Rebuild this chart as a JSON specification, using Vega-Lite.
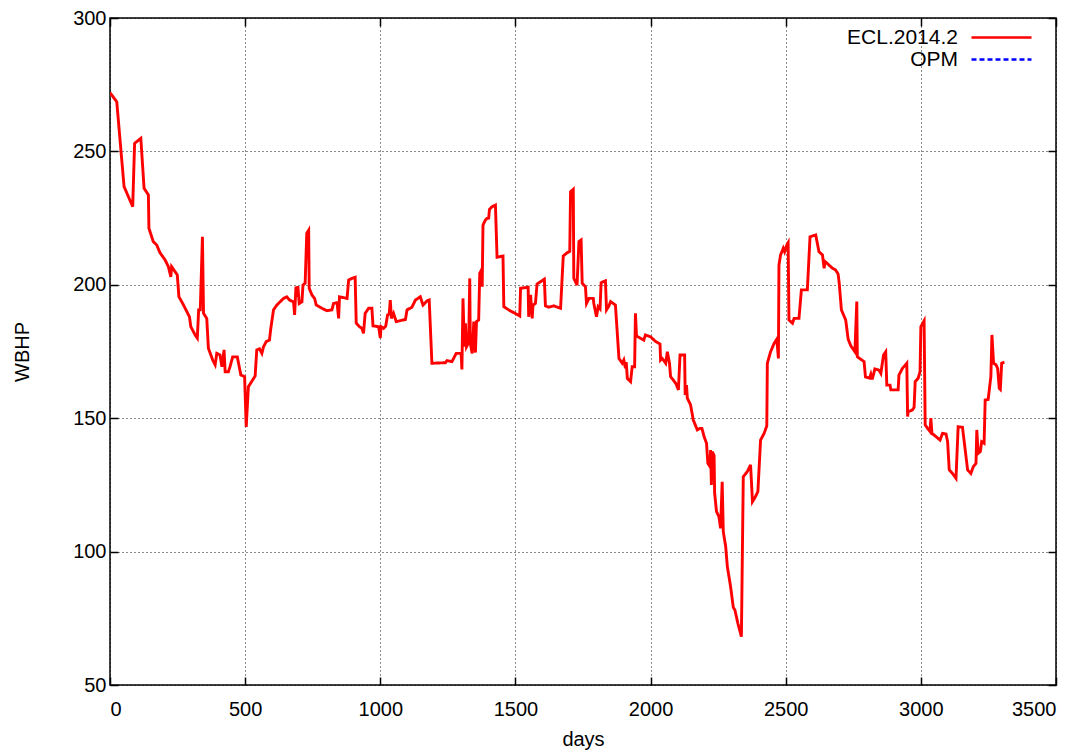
{
  "$schema": "https://vega.github.io/schema/vega-lite/v6.json",
  "width": 946,
  "height": 667,
  "autosize": {"type": "none"},
  "padding": {"left": 110, "top": 18, "right": 30, "bottom": 69},
  "background": "white",
  "config": {
    "font": "Liberation Sans",
    "view": {"stroke": "black", "strokeWidth": 1.5},
    "axis": {
      "labelFontSize": 20, "labelColor": "black", "labelFont": "Liberation Sans",
      "titleFontSize": 20, "titleFontWeight": "normal", "titleColor": "black", "titleFont": "Liberation Sans",
      "gridColor": "black", "gridDash": [1, 3], "gridOpacity": 0.9, "gridWidth": 1,
      "domain": false, "tickColor": "black", "tickWidth": 1.5, "tickSize": -8, "format": "d"
    },
    "legend": {"labelFontSize": 21, "labelColor": "black", "labelFont": "Liberation Sans"}
  },
  "data": {"values": [
    {"day":0,"v":272},{"day":25,"v":268.6},{"day":52,"v":236.8},{"day":84,"v":229.3},{"day":91,"v":253},{"day":114,"v":254.9},{"day":126,"v":236.2},{"day":142,"v":233.7},{"day":144,"v":221.2},{"day":160,"v":216.2},{"day":173,"v":214.9},{"day":185,"v":212},{"day":204,"v":209.3},{"day":216,"v":206.8},{"day":225,"v":203},{"day":228,"v":206.8},{"day":249,"v":203.7},{"day":255,"v":195.5},{"day":269,"v":193},{"day":294,"v":188},{"day":299,"v":184.3},{"day":315,"v":181.2},{"day":323,"v":180},{"day":328,"v":190.6},{"day":334,"v":190.6},{"day":342,"v":218},{"day":346,"v":189.3},{"day":358,"v":187.4},{"day":364,"v":176.2},{"day":380,"v":171.8},{"day":389,"v":170},{"day":395,"v":174.3},{"day":407,"v":173.7},{"day":414,"v":169.3},{"day":422,"v":175.6},{"day":426,"v":167.4},{"day":438,"v":167.4},{"day":444,"v":169.3},{"day":454,"v":173},{"day":471,"v":173},{"day":484,"v":166.2},{"day":498,"v":165.6},{"day":504,"v":146.7},{"day":512,"v":161.8},{"day":537,"v":165.8},{"day":543,"v":175.6},{"day":553,"v":176},{"day":562,"v":174.3},{"day":568,"v":176.8},{"day":578,"v":178.7},{"day":590,"v":179.3},{"day":595,"v":183.7},{"day":605,"v":190.6},{"day":617,"v":192.4},{"day":642,"v":194.9},{"day":654,"v":195.5},{"day":664,"v":194.3},{"day":679,"v":193.6},{"day":683,"v":188.7},{"day":688,"v":199.3},{"day":691,"v":195.5},{"day":695,"v":199.5},{"day":700,"v":193},{"day":710,"v":193.6},{"day":714,"v":199.9},{"day":722,"v":200.6},{"day":728,"v":219.3},{"day":735,"v":220.5},{"day":737,"v":198.7},{"day":747,"v":196.2},{"day":757,"v":194.9},{"day":763,"v":192.4},{"day":784,"v":191.2},{"day":802,"v":190.3},{"day":821,"v":190.6},{"day":827,"v":193},{"day":840,"v":193.3},{"day":846,"v":187.4},{"day":849,"v":195.5},{"day":877,"v":194.9},{"day":883,"v":201.8},{"day":895,"v":202.4},{"day":907,"v":202.8},{"day":911,"v":185.6},{"day":923,"v":184.3},{"day":932,"v":183.7},{"day":938,"v":181.8},{"day":944,"v":189.3},{"day":957,"v":191.2},{"day":969,"v":191.2},{"day":973,"v":184.6},{"day":994,"v":184.3},{"day":1000,"v":180},{"day":1003,"v":184.3},{"day":1012,"v":183.7},{"day":1020,"v":184.5},{"day":1027,"v":188.7},{"day":1033,"v":189},{"day":1037,"v":194.3},{"day":1041,"v":187.4},{"day":1049,"v":189.3},{"day":1059,"v":186.2},{"day":1093,"v":187},{"day":1099,"v":190.6},{"day":1117,"v":191.6},{"day":1130,"v":194.3},{"day":1148,"v":195.5},{"day":1158,"v":192.4},{"day":1173,"v":194},{"day":1181,"v":194.3},{"day":1191,"v":170.6},{"day":1241,"v":170.8},{"day":1247,"v":171.6},{"day":1265,"v":171.2},{"day":1281,"v":174.3},{"day":1299,"v":174.3},{"day":1302,"v":168.3},{"day":1306,"v":194.9},{"day":1311,"v":176.8},{"day":1315,"v":185.6},{"day":1319,"v":176.8},{"day":1327,"v":178.4},{"day":1331,"v":202.4},{"day":1333,"v":178},{"day":1340,"v":174.3},{"day":1346,"v":186.2},{"day":1352,"v":174.6},{"day":1356,"v":186.2},{"day":1364,"v":186.8},{"day":1368,"v":204.3},{"day":1374,"v":205.5},{"day":1377,"v":199.3},{"day":1380,"v":222.4},{"day":1389,"v":224.3},{"day":1395,"v":224.9},{"day":1401,"v":225},{"day":1404,"v":228.3},{"day":1414,"v":229.3},{"day":1426,"v":229.9},{"day":1432,"v":210.3},{"day":1454,"v":210.8},{"day":1457,"v":191.8},{"day":1475,"v":190.6},{"day":1516,"v":188.3},{"day":1519,"v":198.7},{"day":1547,"v":199.1},{"day":1549,"v":188},{"day":1556,"v":196.2},{"day":1562,"v":187.4},{"day":1565,"v":192.4},{"day":1574,"v":193},{"day":1580,"v":200.3},{"day":1607,"v":202.1},{"day":1611,"v":192.1},{"day":1623,"v":191.6},{"day":1642,"v":192.1},{"day":1667,"v":191.2},{"day":1677,"v":210.8},{"day":1691,"v":212},{"day":1701,"v":212.5},{"day":1704,"v":234.9},{"day":1714,"v":235.8},{"day":1716,"v":202.4},{"day":1728,"v":199.9},{"day":1735,"v":216.2},{"day":1743,"v":216.8},{"day":1747,"v":200.6},{"day":1759,"v":199.3},{"day":1763,"v":193},{"day":1772,"v":194.9},{"day":1788,"v":194.9},{"day":1790,"v":193},{"day":1800,"v":188},{"day":1806,"v":191.8},{"day":1813,"v":191},{"day":1817,"v":200.8},{"day":1833,"v":201.5},{"day":1837,"v":190.6},{"day":1846,"v":192.1},{"day":1852,"v":193.7},{"day":1870,"v":192.4},{"day":1883,"v":172.4},{"day":1895,"v":170.6},{"day":1901,"v":171.8},{"day":1907,"v":168.7},{"day":1910,"v":171},{"day":1914,"v":164.9},{"day":1926,"v":163.7},{"day":1932,"v":169.3},{"day":1941,"v":169.3},{"day":1944,"v":189.3},{"day":1948,"v":180.8},{"day":1975,"v":179.3},{"day":1981,"v":181.2},{"day":2000,"v":180.5},{"day":2019,"v":178.7},{"day":2035,"v":177.8},{"day":2037,"v":171.8},{"day":2043,"v":172.4},{"day":2056,"v":170.6},{"day":2062,"v":174.9},{"day":2070,"v":170.6},{"day":2074,"v":165.6},{"day":2093,"v":163.1},{"day":2103,"v":160.6},{"day":2109,"v":173.7},{"day":2126,"v":173.7},{"day":2128,"v":158.7},{"day":2133,"v":162.4},{"day":2136,"v":157.5},{"day":2148,"v":155},{"day":2158,"v":149.3},{"day":2173,"v":145.6},{"day":2183,"v":146.2},{"day":2190,"v":146.2},{"day":2198,"v":143.1},{"day":2207,"v":140.6},{"day":2212,"v":133.1},{"day":2220,"v":131.8},{"day":2222,"v":138.1},{"day":2225,"v":125},{"day":2228,"v":137.5},{"day":2235,"v":136},{"day":2237,"v":121.9},{"day":2244,"v":115},{"day":2253,"v":113.1},{"day":2259,"v":108.7},{"day":2265,"v":126.2},{"day":2269,"v":107.5},{"day":2278,"v":101.8},{"day":2284,"v":94.4},{"day":2296,"v":86.9},{"day":2306,"v":79.1},{"day":2312,"v":78.1},{"day":2323,"v":73.1},{"day":2336,"v":68.1},{"day":2343,"v":128.1},{"day":2358,"v":130},{"day":2370,"v":132.5},{"day":2377,"v":118.7},{"day":2385,"v":120},{"day":2397,"v":122.5},{"day":2407,"v":141.8},{"day":2420,"v":144.3},{"day":2430,"v":147.1},{"day":2432,"v":170.6},{"day":2444,"v":174.9},{"day":2457,"v":178},{"day":2467,"v":179.6},{"day":2473,"v":172.4},{"day":2475,"v":207.4},{"day":2481,"v":211.2},{"day":2491,"v":213.7},{"day":2496,"v":212.4},{"day":2504,"v":214.9},{"day":2509,"v":215.8},{"day":2512,"v":186.8},{"day":2525,"v":185.6},{"day":2531,"v":187.4},{"day":2549,"v":187.4},{"day":2558,"v":198.1},{"day":2580,"v":198.1},{"day":2590,"v":218},{"day":2611,"v":218.7},{"day":2623,"v":212.4},{"day":2636,"v":211.2},{"day":2642,"v":206.2},{"day":2646,"v":208.7},{"day":2660,"v":207.4},{"day":2673,"v":206.2},{"day":2685,"v":205.5},{"day":2694,"v":204},{"day":2698,"v":200.6},{"day":2706,"v":190.6},{"day":2722,"v":186.8},{"day":2731,"v":179.6},{"day":2741,"v":177.1},{"day":2756,"v":174.9},{"day":2763,"v":193.7},{"day":2765,"v":173},{"day":2790,"v":171.2},{"day":2795,"v":165.5},{"day":2810,"v":165},{"day":2815,"v":166.5},{"day":2820,"v":164.5},{"day":2830,"v":168.5},{"day":2845,"v":168},{"day":2852,"v":166.8},{"day":2862,"v":173.7},{"day":2870,"v":174.9},{"day":2874,"v":162.4},{"day":2886,"v":162.4},{"day":2889,"v":160.6},{"day":2916,"v":160.6},{"day":2919,"v":166.2},{"day":2932,"v":168.7},{"day":2948,"v":170.6},{"day":2951,"v":150.6},{"day":2953,"v":152.4},{"day":2969,"v":153.1},{"day":2975,"v":154.1},{"day":2979,"v":163.7},{"day":2990,"v":165},{"day":2997,"v":167.4},{"day":3000,"v":184.3},{"day":3012,"v":186.5},{"day":3016,"v":147.5},{"day":3025,"v":146.2},{"day":3034,"v":145},{"day":3037,"v":150},{"day":3041,"v":144.3},{"day":3056,"v":143.1},{"day":3071,"v":141.8},{"day":3080,"v":144.3},{"day":3093,"v":144.1},{"day":3099,"v":141.2},{"day":3105,"v":130.6},{"day":3117,"v":129.3},{"day":3130,"v":127.5},{"day":3138,"v":146.8},{"day":3154,"v":146.6},{"day":3173,"v":130.6},{"day":3185,"v":129.3},{"day":3194,"v":131.8},{"day":3204,"v":133.1},{"day":3207,"v":145.6},{"day":3212,"v":136.8},{"day":3220,"v":137.5},{"day":3225,"v":141.2},{"day":3234,"v":140.6},{"day":3238,"v":156.8},{"day":3249,"v":157},{"day":3259,"v":165.6},{"day":3263,"v":181.2},{"day":3269,"v":170.6},{"day":3278,"v":170},{"day":3284,"v":168.7},{"day":3290,"v":161.2},{"day":3294,"v":160.8},{"day":3299,"v":170.6},{"day":3309,"v":171}
  ]},
  "transform": [{"calculate": "'ECL.2014.2'", "as": "series"}],
  "layer": [
    {
      "mark": {"type": "line", "strokeWidth": 2.9, "strokeJoin": "miter", "clip": true},
      "encoding": {
        "x": {"field": "day", "type": "quantitative", "title": "days",
              "scale": {"domain": [0, 3500], "nice": false, "zero": false},
              "axis": {"orient": "bottom", "values": [0,500,1000,1500,2000,2500,3000,3500], "labelPadding": 22, "titlePadding": 10}},
        "y": {"field": "v", "type": "quantitative", "title": "WBHP",
              "scale": {"domain": [50, 300], "nice": false, "zero": false},
              "axis": {"orient": "left", "values": [50,100,150,200,250,300], "labelPadding": 12, "titlePadding": 40}},
        "color": {"field": "series", "type": "nominal", "title": null,
                  "scale": {"domain": ["ECL.2014.2", "OPM"], "range": ["#ff0000", "#0000ff"]},
                  "legend": {"orient": "none", "legendX": 880, "legendY": 8, "symbolType": "M-3,0H3", "symbolSize": 400, "symbolStrokeWidth": 2.5, "labelAlign": "right", "labelOffset": -55, "rowPadding": 0, "labelFontSize": 21, "symbolOffset": 0, "padding": 0}},
        "strokeDash": {"field": "series", "type": "nominal", "title": null,
                  "scale": {"domain": ["ECL.2014.2", "OPM"], "range": [[1, 0], [5, 3]]}}
      }
    },
    {
      "mark": {"type": "line", "strokeOpacity": 0},
      "encoding": {
        "x": {"field": "day", "type": "quantitative",
              "axis": {"orient": "top", "values": [0,500,1000,1500,2000,2500,3000,3500], "labels": false, "grid": false, "title": null}},
        "y": {"field": "v", "type": "quantitative",
              "axis": {"orient": "right", "values": [50,100,150,200,250,300], "labels": false, "grid": false, "title": null}}
      }
    }
  ],
  "resolve": {"axis": {"x": "independent", "y": "independent"}}
}
